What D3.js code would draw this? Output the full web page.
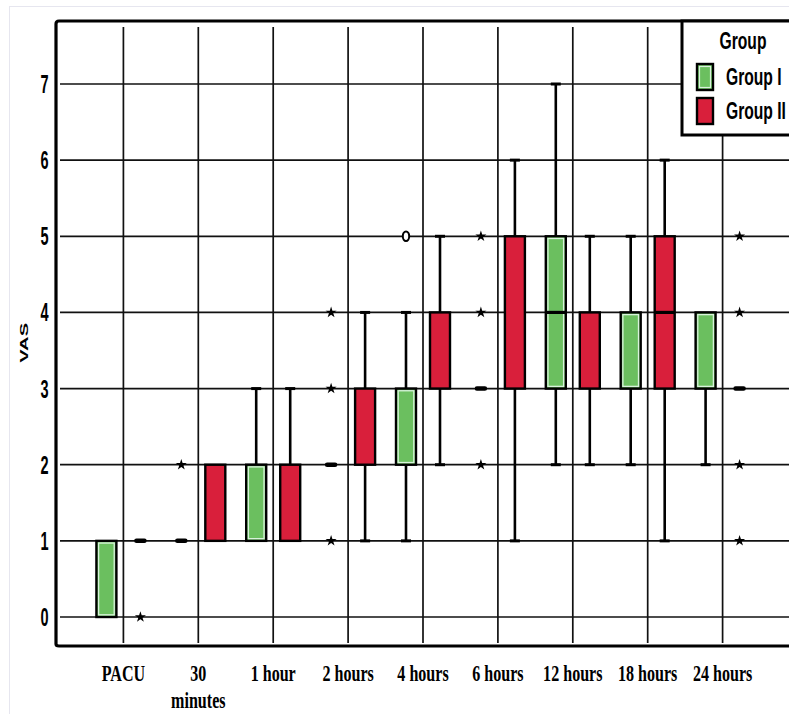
<!DOCTYPE html>
<html>
<head>
<meta charset="utf-8">
<script src="https://cdn.jsdelivr.net/npm/d3@7"></script>
<style>
html,body{margin:0;padding:0;background:#fff;}
svg{display:block;}
</style>
</head>
<body>
<svg id="chart" width="789" height="714"></svg>
<script>
// ---- data ----
const categories = ["PACU","30 minutes","1 hour","2 hours","4 hours","6 hours","12 hours","18 hours","24 hours"];
const categoryLabels = [["PACU"],["30","minutes"],["1 hour"],["2 hours"],["4 hours"],["6 hours"],["12 hours"],["18 hours"],["24 hours"]];
const groups = ["Group I","Group II"];
const yTicks = [0,1,2,3,4,5,6,7];
// per category: [lowWhisker, q1, median, q3, highWhisker]
const group1Stats = [
  [0,0,1,1,1],[1,1,1,1,1],[1,1,1,2,3],[2,2,2,2,2],[1,2,2,3,4],
  [3,3,3,3,3],[2,3,4,5,7],[2,3,3,4,5],[2,3,3,4,4]
];
const group2Stats = [
  [1,1,1,1,1],[1,1,1,2,2],[1,1,1,2,3],[1,2,2,3,4],[2,3,3,4,5],
  [1,3,3,5,6],[2,3,3,4,5],[1,3,4,5,6],[3,3,3,3,3]
];
// extremes (*) and outliers (o)
const group1Extremes = [[],[2],[],[1,3,4],[],[2,4,5],[],[],[]];
const group2Extremes = [[0],[],[],[],[],[],[],[],[1,2,4,5]];
const group1Outliers = [[],[],[],[],[5],[],[],[],[]];
const group2Outliers = [[],[],[],[],[],[],[],[],[]];

const colors = {"Group I":"#6bbf5f","Group II":"#d91f3b"};

// ---- layout ----
const W = 789, H = 714;
const frameLeft = 56, frameTop = 21, frameBottom = 646, frameRight = 790;
const svg = d3.select("#chart");

const x = d3.scalePoint().domain(categories).range([frameLeft, frameRight]).padding(0.9);
const y = d3.scaleLinear().domain([0,7]).range([617,84]);
const gx = d3.scalePoint().domain(groups).range([-17,17]);
const boxW = 20;

// faint outer border
svg.append("rect").attr("x",9.5).attr("y",6.5).attr("width",W).attr("height",H)
  .attr("fill","none").attr("stroke","#e6e6ef").attr("stroke-width",1);

// grid
const grid = svg.append("g").attr("stroke","#111").attr("stroke-width",1.7);
grid.selectAll("line.h").data(yTicks).join("line").attr("class","h")
  .attr("x1",frameLeft+4).attr("x2",W).attr("y1",d=>y(d)).attr("y2",d=>y(d));
grid.selectAll("line.v").data(categories).join("line").attr("class","v")
  .attr("x1",d=>x(d)).attr("x2",d=>x(d)).attr("y1",frameTop+6).attr("y2",frameBottom-3);

// frame
svg.append("path")
  .attr("d",`M${W+2},${frameTop} L${frameLeft+3},${frameTop} Q${frameLeft},${frameTop} ${frameLeft},${frameTop+3} L${frameLeft},${frameBottom-2} Q${frameLeft},${frameBottom} ${frameLeft+3},${frameBottom} L${W+2},${frameBottom}`)
  .attr("fill","none").attr("stroke","#000").attr("stroke-width",3.2);

// boxes
function drawGroup(stats, extremes, outliers, g){
  const layer = svg.append("g");
  stats.forEach((s,i)=>{
    const cx = x(categories[i]) + gx(g);
    const [lo,q1,med,q3,hi] = s;
    if(hi>q3){
      layer.append("line").attr("x1",cx).attr("x2",cx).attr("y1",y(q3)).attr("y2",y(hi)).attr("stroke","#000").attr("stroke-width",2.6);
      layer.append("line").attr("x1",cx-5).attr("x2",cx+5).attr("y1",y(hi)).attr("y2",y(hi)).attr("stroke","#000").attr("stroke-width",3);
    }
    if(lo<q1){
      layer.append("line").attr("x1",cx).attr("x2",cx).attr("y1",y(q1)).attr("y2",y(lo)).attr("stroke","#000").attr("stroke-width",2.6);
      layer.append("line").attr("x1",cx-5).attr("x2",cx+5).attr("y1",y(lo)).attr("y2",y(lo)).attr("stroke","#000").attr("stroke-width",3);
    }
    if(q3>q1){
      layer.append("rect").attr("x",cx-boxW/2).attr("y",y(q3)).attr("width",boxW).attr("height",y(q1)-y(q3))
        .attr("fill",colors[g]).attr("stroke","#000").attr("stroke-width",2.4);
      if(g==="Group I"){
        layer.append("rect").attr("x",cx-boxW/2+2.2).attr("y",y(q3)+2.2).attr("width",boxW-4.4).attr("height",y(q1)-y(q3)-4.4)
          .attr("fill","none").attr("stroke","#d9f2dc").attr("stroke-width",1.3);
      }
      if(med>q1 && med<q3){
        layer.append("line").attr("x1",cx-boxW/2).attr("x2",cx+boxW/2).attr("y1",y(med)).attr("y2",y(med))
          .attr("stroke","#000").attr("stroke-width",3.2);
      }
    } else {
      layer.append("line").attr("x1",cx-4).attr("x2",cx+4).attr("y1",y(med)).attr("y2",y(med))
        .attr("stroke","#000").attr("stroke-width",4.5).attr("stroke-linecap","round");
    }
    extremes[i].forEach(v=>{
      layer.append("path").attr("d",d3.symbol(d3.symbolStar).size(38)())
        .attr("transform",`translate(${cx},${y(v)})`).attr("fill","#000");
    });
    outliers[i].forEach(v=>{
      layer.append("ellipse").attr("cx",cx).attr("cy",y(v)).attr("rx",3.2).attr("ry",4.8)
        .attr("fill","#fff").attr("stroke","#000").attr("stroke-width",2);
    });
  });
}
drawGroup(group1Stats, group1Extremes, group1Outliers, "Group I");
drawGroup(group2Stats, group2Extremes, group2Outliers, "Group II");

// text helper
function label(parent, tx, ty, str, size, family, weight, sx, sy, anchor){
  return parent.append("text")
    .attr("transform",`translate(${tx},${ty}) scale(${sx},${sy})`)
    .attr("text-anchor",anchor||"middle")
    .attr("font-family",family).attr("font-size",size).attr("font-weight",weight)
    .attr("fill","#000").text(str);
}

// y tick labels
const yl = svg.append("g");
yTicks.forEach(v=>{
  label(yl, 44.5, y(v)+9, String(v), 25, "Liberation Sans, Arial, sans-serif", "bold", 0.58, 1, "middle");
});
// y title
svg.append("text")
  .attr("transform",`translate(28,${y(3.6)}) rotate(-90) scale(1.75,1)`)
  .attr("text-anchor","middle").attr("font-family","Liberation Sans, Arial, sans-serif")
  .attr("font-size",11.5).attr("font-weight","bold").text("VAS");

// x tick labels
const xl = svg.append("g");
categories.forEach((c,i)=>{
  categoryLabels[i].forEach((line,j)=>{
    label(xl, x(c), 681 + j*27, line, 24, "Liberation Serif, Times New Roman, serif", "bold", 0.67, 1, "middle");
  });
});

// legend
const lg = svg.append("g");
lg.append("rect").attr("x",682).attr("y",frameTop).attr("width",130).attr("height",114)
  .attr("fill","#fff").attr("stroke","#000").attr("stroke-width",3);
label(lg, 743, 49, "Group", 23, "Liberation Sans, Arial, sans-serif", "bold", 0.68, 1, "middle");
groups.forEach((g,i)=>{
  const sy = 64 + i*34;
  lg.append("rect").attr("x",697).attr("y",sy).attr("width",16).attr("height",26)
    .attr("fill",colors[g]).attr("stroke","#000").attr("stroke-width",2.4);
  if(g==="Group I"){
    lg.append("rect").attr("x",699.5).attr("y",sy+2.5).attr("width",11).attr("height",21)
      .attr("fill","none").attr("stroke","#d9f2dc").attr("stroke-width",1.2);
  }
  label(lg, 726, sy+21, g, 23, "Liberation Sans, Arial, sans-serif", "bold", 0.68, 1, "start");
});
</script>
</body>
</html>
